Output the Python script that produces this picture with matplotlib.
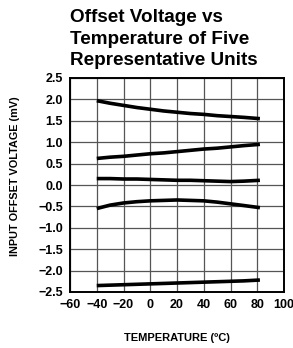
import numpy as np
import matplotlib.pyplot as plt

# Temperature points (degC) and offset voltage (mV) for five units
temp = [-40, -30, -20, -10, 0, 10, 20, 30, 40, 50, 60, 70, 82]
unit_1 = [1.97, 1.91, 1.86, 1.81, 1.77, 1.73, 1.70, 1.67, 1.65, 1.62, 1.60, 1.58, 1.55]
unit_2 = [0.62, 0.65, 0.67, 0.70, 0.73, 0.75, 0.78, 0.81, 0.84, 0.86, 0.89, 0.92, 0.95]
unit_3 = [0.15, 0.15, 0.14, 0.14, 0.13, 0.12, 0.11, 0.11, 0.10, 0.09, 0.08, 0.09, 0.11]
unit_4 = [-0.55, -0.47, -0.42, -0.39, -0.37, -0.36, -0.35, -0.36, -0.37, -0.40, -0.44, -0.48, -0.53]
unit_5 = [-2.35, -2.34, -2.33, -2.32, -2.31, -2.30, -2.29, -2.28, -2.27, -2.26, -2.25, -2.24, -2.22]

x_ticks = [-60, -40, -20, 0, 20, 40, 60, 80, 100]
y_ticks = [-2.5, -2.0, -1.5, -1.0, -0.5, 0.0, 0.5, 1.0, 1.5, 2.0, 2.5]

narrow = ['Liberation Sans Narrow', 'Liberation Sans']
tick_font = dict(family=narrow, weight='bold', size=9)

fig = plt.figure(figsize=(2.93, 3.48), dpi=100)
ax = fig.add_axes([70 / 293, 1 - 292 / 348, 214 / 293, 214 / 348])

for series in [unit_1, unit_2, unit_3, unit_4, unit_5]:
    ax.plot(temp, series, color='black', lw=2.6, solid_capstyle='butt')

ax.set_xlim(-60, 100)
ax.set_ylim(-2.5, 2.5)
ax.set_xticks(x_ticks)
ax.set_yticks(y_ticks)
ax.set_xticklabels([str(t).replace('-', '\u2212') for t in x_ticks], fontdict=tick_font)
ax.set_yticklabels([f'{t:.1f}'.replace('-', '\u2212') for t in y_ticks], fontdict=tick_font)
ax.tick_params(length=0, pad=5)
ax.grid(True, color='#555555', lw=0.9)
for s in ax.spines.values():
    s.set_linewidth(1.4)

ax.set_xlabel('TEMPERATURE (\u00baC)', family=narrow,
              weight='bold', size=8, labelpad=16)
ax.set_ylabel('INPUT OFFSET VOLTAGE (mV)', family=narrow,
              weight='bold', size=7.8)
ax.yaxis.set_label_coords(-0.232, 0.54)

fig.text(70 / 293, 1 - 9 / 348, 'Offset Voltage vs\nTemperature of Five\nRepresentative Units',
         ha='left', va='top', fontsize=13.6, fontweight='bold', fontfamily='Liberation Sans',
         linespacing=1.35)

fig.savefig('out.png', dpi=100)
